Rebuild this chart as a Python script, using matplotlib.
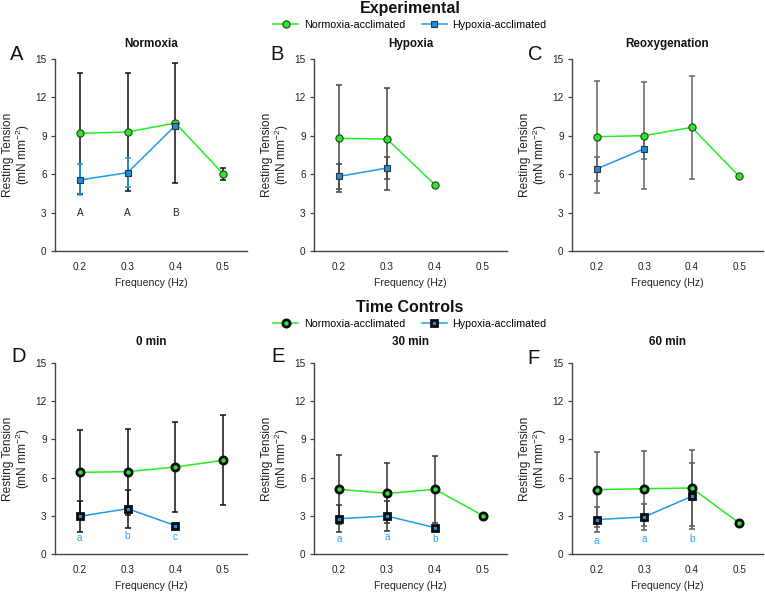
import numpy as np
import matplotlib
matplotlib.use("Agg")
import matplotlib.pyplot as plt
from matplotlib.lines import Line2D

plt.rcParams['font.family'] = ['Liberation Sans', 'DejaVu Sans']
plt.rcParams['mathtext.fontset'] = 'custom'
plt.rcParams['mathtext.rm'] = 'Liberation Sans'

# ---------------- data ----------------
freq = [0.2, 0.3, 0.4, 0.5]
freq_ticks = ['0.2', '0.3', '0.4', '0.5']

A_norm = [9.19, 9.30, 10.0, 6.03]
A_norm_err = [4.72, 4.63, 4.72, 0.48]
A_hyp = [5.55, 6.12, 9.80]
A_hyp_err = [1.21, 1.12, np.nan]

B_norm = [8.80, 8.75, 5.18]
B_norm_err = [4.20, 3.95, np.nan]
B_hyp = [5.83, 6.48]
B_hyp_err = [0.98, 0.85]

C_norm = [8.93, 9.01, 9.66, 5.83]
C_norm_err = [4.38, 4.16, 4.02, np.nan]
C_hyp = [6.41, 7.99]
C_hyp_err = [0.96, 0.80]

D_norm = [6.41, 6.47, 6.83, 7.36]
D_norm_err = [3.35, 3.37, 3.56, 3.53]
D_hyp = [2.96, 3.56, 2.23]
D_hyp_err = [1.23, 1.49, np.nan]

E_norm = [5.08, 4.76, 5.08, 3.01]
E_norm_err = [2.70, 2.36, 2.62, np.nan]
E_hyp = [2.77, 2.98, 2.07]
E_hyp_err = [1.06, 1.18, np.nan]

F_norm = [5.05, 5.13, 5.18, 2.43]
F_norm_err = [2.93, 2.96, 2.98, np.nan]
F_hyp = [2.70, 2.91, 4.53]
F_hyp_err = [0.98, 1.00, 2.60]

A_letters = ['A', 'A', 'B']
A_letter_y = [3.0, 3.0, 3.0]
D_letters = ['a', 'b', 'c']
D_letter_y = [1.23, 1.44, 1.36]
E_letters = ['a', 'a', 'b']
E_letter_y = [1.15, 1.31, 1.15]
F_letters = ['a', 'a', 'b']
F_letter_y = [1.02, 1.20, 1.20]

panel_titles = ['Normoxia', 'Hypoxia', 'Reoxygenation', '0 min', '30 min', '60 min']
panel_labels = ['A', 'B', 'C', 'D', 'E', 'F']
series_labels = ['Normoxia-acclimated', 'Hypoxia-acclimated']

# ---------------- style ----------------
GREEN = '#22ee22'
BLUE = '#1e9be8'
BLUE_FACE = '#1a8fe3'
LETTER_BLUE = '#2aa5f5'

W, H = 765, 593
fig = plt.figure(figsize=(W / 100, H / 100), dpi=100)

lefts = [55, 314, 572]
rights = [247, 507, 763]
tops = [59, 363]
bottoms = [251, 554]

def ax_rect(col, row):
    l = lefts[col] / W
    w = (rights[col] - lefts[col]) / W
    b = 1 - bottoms[row] / H
    h = (bottoms[row] - tops[row]) / H
    return [l, b, w, h]

data = [
    (A_norm, A_norm_err, A_hyp, A_hyp_err),
    (B_norm, B_norm_err, B_hyp, B_hyp_err),
    (C_norm, C_norm_err, C_hyp, C_hyp_err),
    (D_norm, D_norm_err, D_hyp, D_hyp_err),
    (E_norm, E_norm_err, E_hyp, E_hyp_err),
    (F_norm, F_norm_err, F_hyp, F_hyp_err),
]
err_colors = ['#111111', '#444444', '#666666', '#111111', '#333333', '#5a5a5a']
letters = [(A_letters, A_letter_y, '#222222'), None, None,
           (D_letters, D_letter_y, LETTER_BLUE),
           (E_letters, E_letter_y, LETTER_BLUE),
           (F_letters, F_letter_y, LETTER_BLUE)]

for i in range(6):
    row, col = divmod(i, 3)
    ax = fig.add_axes(ax_rect(col, row))
    norm, norm_err, hyp, hyp_err = data[i]
    xn = freq[:len(norm)]
    xh = freq[:len(hyp)]
    ec = err_colors[i]
    hyp_ec = BLUE if i == 0 else ec

    ax.errorbar(xn, norm, yerr=norm_err, fmt='none', ecolor=ec, elinewidth=1.1,
                capsize=2.2, capthick=1.1, zorder=1)
    ax.errorbar(xh, hyp, yerr=hyp_err, fmt='none', ecolor=hyp_ec, elinewidth=1.1,
                capsize=2.2, capthick=1.1, zorder=1.5)
    ax.plot(xn, norm, color=GREEN, lw=1.1, zorder=2)
    ax.plot(xh, hyp, color=BLUE, lw=1.1, zorder=2)
    if row == 0:
        ax.plot(xn, norm, ls='none', marker='o', ms=5.2, mfc=GREEN, mec='#333333',
                mew=0.8, zorder=3)
        ax.plot(xh, hyp, ls='none', marker='s', ms=4.6, mfc=BLUE_FACE, mec='#333333',
                mew=0.8, zorder=3)
    else:
        ax.plot(xn, norm, ls='none', marker='o', ms=5.2, mfc=GREEN, mec='#0a0a0a',
                mew=2.0, zorder=3)
        ax.plot(xh, hyp, ls='none', marker='s', ms=4.6, mfc=BLUE_FACE, mec='#0a0a0a',
                mew=2.0, zorder=3)

    if letters[i] is not None:
        labs, ys, c = letters[i]
        for x, y, t in zip(freq, ys, labs):
            ax.text(x, y, t, ha='center', va='center', fontsize=7.2, color=c)

    ax.set_xlim(0.148, 0.55)
    ax.set_ylim(0, 15)
    ax.set_yticks([0, 3, 6, 9, 12, 15])
    ax.set_xticks(freq)
    ax.set_xticklabels(freq_ticks)
    for s in ['top', 'right']:
        ax.spines[s].set_visible(False)
    for s in ['left', 'bottom']:
        ax.spines[s].set_color('#444444')
        ax.spines[s].set_linewidth(1.0)
    ax.tick_params(axis='y', length=3, width=0.9, color='#444444', pad=3,
                   labelsize=7.2, labelcolor='#222222')
    ax.tick_params(axis='x', length=0, pad=8, labelsize=7.2, labelcolor='#222222')
    ax.set_xlabel('Frequency (Hz)', fontsize=7.6, color='#222222')
    ax.set_ylabel('Resting Tension\n(mN mm$^{-2}$)', fontsize=8.6,
                  color='#222222', linespacing=1.0)
    wpx = rights[col] - lefts[col]
    hpx = bottoms[row] - tops[row]
    ax.yaxis.set_label_coords(-23.0 / wpx, 0.5)
    ax.xaxis.set_label_coords(0.5, -27.0 / hpx)
    toff = 15 / 192 if row == 0 else 21 / 191
    ax.text(0.5, 1 + toff, panel_titles[i], transform=ax.transAxes, ha='center',
            va='center', fontsize=8.4, fontweight='bold', color='#111111')

# panel letters
letter_pos = [(10, 60), (270, 60), (528, 60), (11, 362), (271, 362), (527, 364)]
for lab, (px, py) in zip(panel_labels, letter_pos):
    fig.text(px / W, 1 - py / H, lab, fontsize=14.5, ha='left', va='baseline',
             color='#111111')

# section titles
fig.text(410 / W, 1 - 9 / H, 'Experimental', fontsize=11.5, fontweight='bold',
         ha='center', va='center', color='#111111')
fig.text(410 / W, 1 - 307 / H, 'Time Controls', fontsize=11.5, fontweight='bold',
         ha='center', va='center', color='#111111')

# legends
for row, ly in enumerate([25, 324]):
    if row == 0:
        h1 = Line2D([], [], color=GREEN, lw=1.1, marker='o', ms=5.2, mfc=GREEN,
                    mec='#333333', mew=0.8)
        h2 = Line2D([], [], color=BLUE, lw=1.1, marker='s', ms=4.6, mfc=BLUE_FACE,
                    mec='#333333', mew=0.8)
    else:
        h1 = Line2D([], [], color=GREEN, lw=1.1, marker='o', ms=5.2, mfc=GREEN,
                    mec='#0a0a0a', mew=2.0)
        h2 = Line2D([], [], color=BLUE, lw=1.1, marker='s', ms=4.6, mfc=BLUE_FACE,
                    mec='#0a0a0a', mew=2.0)
    fig.legend([h1, h2], series_labels, loc='center',
               bbox_to_anchor=(410 / W, 1 - ly / H), ncol=2, frameon=False,
               fontsize=7.7, handlelength=2.35, handletextpad=0.55,
               columnspacing=1.5, borderpad=0, borderaxespad=0)

fig.savefig('out.png', dpi=100)
